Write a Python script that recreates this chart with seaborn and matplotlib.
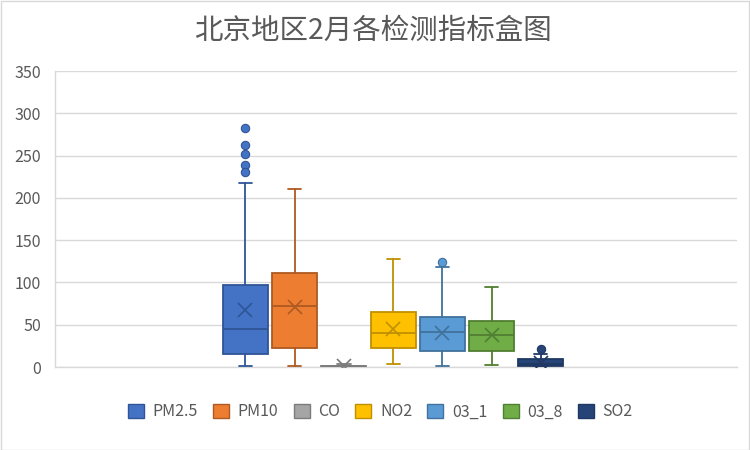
import matplotlib
matplotlib.use("Agg")
import matplotlib.pyplot as plt
import seaborn as sns
from matplotlib.patches import Patch, Rectangle

# ---- data ----
names = ['PM2.5', 'PM10', 'CO', 'NO2', '03_1', '03_8', 'SO2']
whislo = [1, 1, 0.2, 4, 1, 2, 1]
q1 = [15, 23, 0.5, 22, 19, 19, 1.5]
med = [45, 72, 0.9, 40, 41, 38, 4]
q3 = [97, 111, 1.4, 65, 59, 55, 9.5]
whishi = [217, 210, 3, 128, 118, 95, 15]
means = [68, 71, 1.1, 45, 40, 38, 5]
fliers_pm25 = [283, 263, 252, 239, 231]
fliers_o3_1 = [124]
fliers_so2 = [21]
fliers = [fliers_pm25, [], [], [], fliers_o3_1, [], fliers_so2]
yticks = [0, 50, 100, 150, 200, 250, 300, 350]

fill_colors = ['#4472C4', '#ED7D31', '#A5A5A5', '#FFC000', '#5B9BD5', '#70AD47', '#264478']
edge_colors = ['#2F5597', '#AE5A21', '#7C7C7C', '#BF9000', '#41719C', '#507E32', '#1F3864']

sns.set_theme(style="white")
plt.rcParams['font.family'] = ['Noto Sans CJK SC', 'DejaVu Sans']

fig = plt.figure(figsize=(7.5, 4.5), dpi=100)
ax = fig.add_axes([0.0733, 0.1844, 0.9097, 0.6578])

width = 0.915
for i, name in enumerate(names):
    st = dict(label=name, whislo=whislo[i], q1=q1[i], med=med[i], q3=q3[i],
              whishi=whishi[i], mean=means[i], fliers=fliers[i])
    ec = edge_colors[i]
    ax.bxp([st], positions=[i], widths=[width], capwidths=[0.27],
           patch_artist=True, showmeans=True, showfliers=True,
           boxprops=dict(facecolor=fill_colors[i], edgecolor=ec, linewidth=1.3),
           medianprops=dict(color=ec, linewidth=1.3),
           whiskerprops=dict(color=ec, linewidth=1.3),
           capprops=dict(color=ec, linewidth=1.3),
           meanprops=dict(marker='x', markeredgecolor=ec, markersize=10,
                          markeredgewidth=1.2, linestyle='none'),
           flierprops=dict(marker='o', markerfacecolor=fill_colors[i],
                           markeredgecolor=ec, markersize=6, markeredgewidth=0.8),
           manage_ticks=False, zorder=3)

ax.set_xlim(-3.87, 9.99)
ax.set_ylim(0, 350)
ax.set_yticks(yticks)
ax.set_yticklabels([str(v) for v in yticks])
ax.set_xticks([])
ax.yaxis.grid(True, color='#D9D9D9', linewidth=1.0, zorder=0)
ax.set_axisbelow(True)
for s in ['top', 'right']:
    ax.spines[s].set_visible(False)
ax.spines['bottom'].set_color('#D9D9D9')
ax.spines['left'].set_color('#D9D9D9')
ax.spines['bottom'].set_linewidth(1.0)
ax.spines['left'].set_linewidth(1.0)
ax.tick_params(axis='y', length=0, labelsize=11.5, labelcolor='#595959', pad=10)

fig.text(0.497, 1 - 31 / 450, '北京地区2月各检测指标盒图', ha='center', va='center',
         fontsize=20.5, color='#595959')

handles = [Patch(facecolor=fill_colors[i], edgecolor=edge_colors[i], linewidth=1.0)
           for i in range(len(names))]
fig.legend(handles, names, loc='center', bbox_to_anchor=(0.507, 1 - 412 / 450), ncol=7,
           frameon=False, fontsize=11.5, labelcolor='#595959',
           handlelength=1.0, handleheight=1.0, handletextpad=0.55, columnspacing=0.95)

fig.patches.append(Rectangle((0.001, 0.001), 0.997, 0.997, transform=fig.transFigure,
                             fill=False, edgecolor='#D9D9D9', linewidth=1.0))

fig.savefig('out.png', dpi=100)
